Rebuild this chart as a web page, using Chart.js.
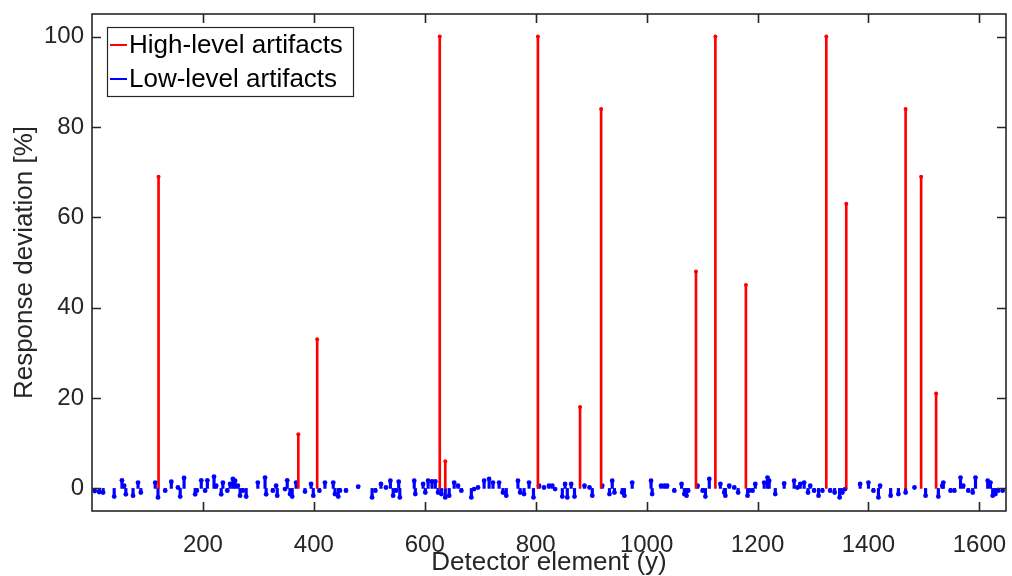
<!DOCTYPE html>
<html>
<head>
<meta charset="utf-8">
<script src="https://cdn.jsdelivr.net/npm/chart.js@4/dist/chart.umd.min.js"></script>
<style>
  body { margin: 0; background: #fff; }
</style>
</head>
<body>
<canvas id="artifacts" width="1012" height="576"></canvas>
<script>
// red stems: detector element / response deviation
let HIGH_X = [120, 372, 406, 627, 637, 804, 880, 918, 1089, 1124, 1179, 1324, 1360, 1467, 1495, 1522];
let HIGH_Y = [69, 12, 33, 100, 6, 100, 18, 84, 48, 100, 45, 100, 63, 84, 69, 21];

// blue stems left to right
let LOW_X = [5, 13, 20, 40, 54, 58, 61, 74, 83, 88, 114, 119, 132, 143, 155, 159, 166, 186, 189, 197,
  204, 208, 220, 224, 233, 236, 244, 249, 254, 258, 263, 267, 272,
  278, 299, 312, 314, 326, 332, 334, 348, 352, 357, 361, 368, 384, 395, 399, 410, 420, 435, 438, 444,
  447, 458, 480, 505, 511, 521, 530, 538, 543, 548,
  553, 555, 581, 583, 597, 601, 606, 613, 619, 624, 630, 637, 644, 653, 660, 666, 684, 689, 696, 707,
  716, 723, 734, 741, 747, 768, 772, 779, 788, 796, 806, 815, 824,
  830, 835, 848, 853, 857, 864, 870, 888, 897, 902, 920, 933, 938, 942, 956, 960, 974, 1008, 1010,
  1026, 1032, 1037, 1050, 1063, 1068, 1072, 1075, 1092, 1101,
  1106, 1113, 1133, 1140, 1142, 1149, 1158, 1165, 1182, 1185, 1191, 1196, 1212, 1218, 1221, 1232,
  1248, 1266, 1272, 1277, 1284, 1291, 1295, 1302, 1310, 1317, 1331, 1339, 1348, 1353, 1358,
  1385, 1400, 1409, 1418, 1421, 1440, 1454, 1467, 1483, 1503, 1526, 1533, 1535, 1548, 1555, 1566,
  1571, 1580, 1588, 1593, 1615, 1620, 1624, 1629, 1634, 1642];
let LOW_Y = [-0.6, -0.8, -0.9, -1.8, 1.8, 0.6, -1.3, -1.6, 1.3, -0.9, 1.3, -2, -0.5, 1.5, 0.2, -1.8, 2.3, -1.3, -0.5, 1.8,
  -0.5, 1.8, 2.6, 0.6, -1.3, 1.3, -0.5, 1.0, 2.1, 1.7, 0.6, -1.6, -0.5,
  -1.8, 1.3, 2.4, -1.3, -0.5, 0.6, -1.6, -0.15, 1.8, -1.25, -1.8, 1.3, -0.7, 1.0, -1.6, -0.5, 1.3, 1.3, -1.25, -1.8,
  -0.5, -0.5, 0.4, -2.0, -0.5, 1.0, 0.2, 1.7, -1.6, -0.5,
  1.5, -2.0, 1.7, -1.25, 1.0, -0.9, 1.7, 1.55, 1.55, -0.9, -1.25, -2.0, -1.6, 1.3, 0.6, -0.5, -2.0, -0.15, 0.2, 1.7,
  2.1, 1.3, 1.3, -0.9, -1.6, 1.7, -0.9, -1.25, 1.3, -2.0, 0.6, 0.2, 0.6,
  0.6, -0.15, -1.8, 1.0, -2.0, 1.0, -1.8, 0.6, 0.2, -1.6, 0.6, -1.25, 1.7, -0.9, -0.9, -1.6, 1.3, 1.7, -1.25,
  0.6, 0.6, 0.6, -0.5, 1.0, -1.25, -1.6, -0.5, 0.6, -0.5,
  -1.8, 2.1, 1.0, -0.9, -1.6, 0.6, 0.2, -0.9, -1.6, -0.5, -0.5, 1.0, 1.3, 2.4, 1.7, -1.25,
  1.1, 1.7, 0.2, 1.0, 1.3, -0.9, 0.6, -0.5, -1.6, -0.5, -0.5, -0.9, -2.0, -0.9, -0.15,
  1.0, 1.3, -0.5, -2.0, 0.6, -1.6, -1.25, -0.9, 0.2, -1.6, -1.8, 0.6, 1.3, -0.5, -0.5, 2.4,
  0.6, -0.5, -0.9, 2.4, 1.7, 1.3, -1.6, -1.25, -0.5, -0.5];

let X_TICKS = [200, 400, 600, 800, 1000, 1200, 1400, 1600];
let Y_TICKS = [0, 20, 40, 60, 80, 100];

let RED = '#ff0000';
let BLUE = '#0000ff';
let INK = '#262626';
let FONT = "'Liberation Sans', Arial, sans-serif";

let highPts = HIGH_X.map((x, i) => ({x: x, y: HIGH_Y[i]}));
let lowPts = LOW_X.map((x, i) => ({x: x, y: LOW_Y[i]}));

// box around the axes with inward ticks on all four sides
const axesBox = {
  id: 'axesBox',
  afterDatasetsDraw(chart) {
    const ctx = chart.ctx, a = chart.chartArea;
    const xs = chart.scales.x, ys = chart.scales.y;
    ctx.save();
    ctx.strokeStyle = INK;
    ctx.lineWidth = 1.6;
    ctx.strokeRect(a.left, a.top, a.right - a.left, a.bottom - a.top);
    ctx.beginPath();
    X_TICKS.forEach(v => {
      const p = Math.round(xs.getPixelForValue(v)) + 0.5;
      ctx.moveTo(p, a.bottom); ctx.lineTo(p, a.bottom - 9);
      ctx.moveTo(p, a.top); ctx.lineTo(p, a.top + 9);
    });
    Y_TICKS.forEach(v => {
      const p = Math.round(ys.getPixelForValue(v)) + 0.5;
      ctx.moveTo(a.left, p); ctx.lineTo(a.left + 9, p);
      ctx.moveTo(a.right, p); ctx.lineTo(a.right - 9, p);
    });
    ctx.stroke();
    ctx.restore();
  }
};

// matlab-like legend box in the top left corner of the axes
const boxLegend = {
  id: 'boxLegend',
  afterDraw(chart) {
    const ctx = chart.ctx, a = chart.chartArea;
    const x0 = a.left + 15, y0 = a.top + 13, w = 246, h = 69;
    const items = chart.data.datasets.filter(d => d.inLegend);
    ctx.save();
    ctx.fillStyle = '#fff';
    ctx.fillRect(x0, y0, w, h);
    ctx.strokeStyle = INK;
    ctx.lineWidth = 1.2;
    ctx.strokeRect(x0 + 0.5, y0 + 0.5, w, h);
    ctx.font = '26px ' + FONT;
    ctx.textBaseline = 'middle';
    items.forEach((d, i) => {
      const yy = y0 + 18 + i * 34;
      ctx.strokeStyle = d.borderColor;
      ctx.lineWidth = 2;
      ctx.beginPath();
      ctx.moveTo(x0 + 3, yy); ctx.lineTo(x0 + 20, yy);
      ctx.stroke();
      ctx.fillStyle = '#000';
      ctx.fillText(d.label, x0 + 22, yy + 1);
    });
    ctx.restore();
  }
};

new Chart(document.getElementById('artifacts'), {
  type: 'bar',
  data: {
    datasets: [{
      type: 'scatter',
      label: 'high dots',
      data: highPts,
      pointRadius: 2,
      pointBackgroundColor: RED,
      pointBorderWidth: 0,
      order: 0
    }, {
      label: 'High-level artifacts',
      inLegend: true,
      data: highPts,
      backgroundColor: RED,
      borderColor: RED,
      barThickness: 2,
      order: 1
    }, {
      type: 'scatter',
      label: 'low dots',
      data: lowPts,
      pointRadius: 2.4,
      pointBackgroundColor: BLUE,
      pointBorderWidth: 0,
      order: 2
    }, {
      label: 'Low-level artifacts',
      inLegend: true,
      data: lowPts,
      backgroundColor: BLUE,
      borderColor: BLUE,
      barThickness: 2.5,
      order: 3
    }]
  },
  options: {
    responsive: false,
    animation: false,
    grouped: false,
    layout: { padding: { left: 0, top: 14, right: 6, bottom: 0 } },
    plugins: { legend: { display: false }, tooltip: { enabled: false } },
    scales: {
      x: {
        type: 'linear',
        offset: false,
        min: 0,
        max: 1648,
        afterBuildTicks: s => { s.ticks = X_TICKS.map(v => ({value: v})); },
        afterFit: s => { s.height = 65; s.paddingLeft = 0; s.paddingRight = 0; },
        grid: { display: false, drawTicks: false },
        border: { display: false },
        ticks: { color: INK, padding: 20, maxRotation: 0, callback: v => String(v),
                 font: { family: FONT, size: 24 } },
        title: { display: true, text: 'Detector element (y)', color: INK,
                 padding: { top: 0, bottom: -2 }, font: { family: FONT, size: 26 } }
      },
      y: {
        min: -5,
        max: 105,
        afterBuildTicks: s => { s.ticks = Y_TICKS.map(v => ({value: v})); },
        afterFit: s => { s.width = 92; s.paddingTop = 0; s.paddingBottom = 0; },
        grid: { display: false, drawTicks: false },
        border: { display: false },
        ticks: { color: INK, padding: 8, callback: v => String(v), font: { family: FONT, size: 24 } },
        title: { display: true, text: 'Response deviation [%]', color: INK,
                 padding: { top: 9, bottom: 0 }, font: { family: FONT, size: 26 } }
      }
    }
  },
  plugins: [axesBox, boxLegend]
});
</script>
</body>
</html>
